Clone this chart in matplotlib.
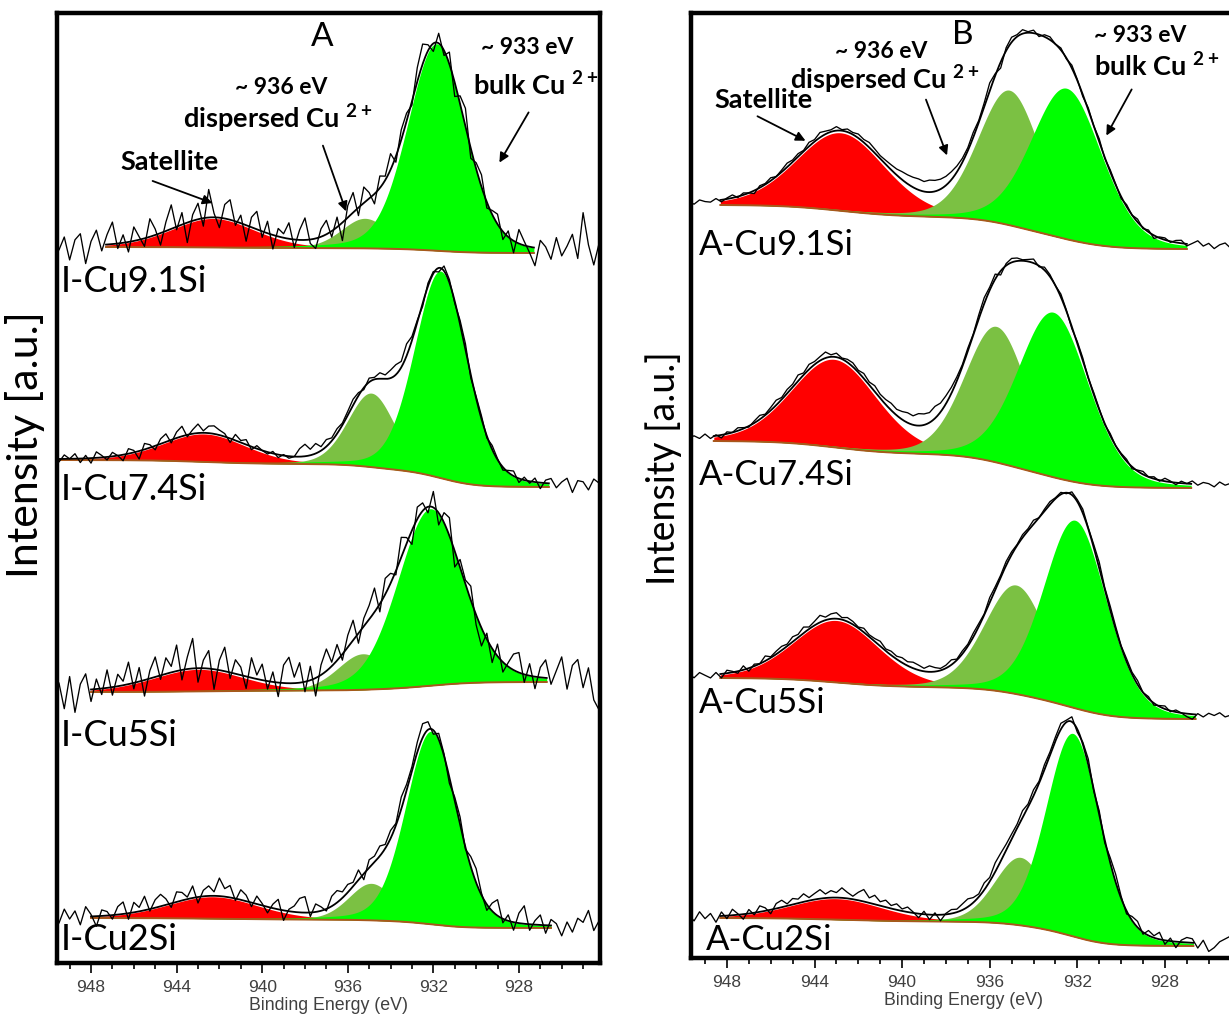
import numpy as np
import matplotlib.pyplot as plt
from matplotlib.ticker import MultipleLocator
from matplotlib.patches import FancyArrowPatch

plt.rcParams['font.family'] = ['Lato', 'DejaVu Sans']
plt.rcParams['mathtext.fontset'] = 'custom'
plt.rcParams['mathtext.rm'] = 'Lato'
plt.rcParams['mathtext.bf'] = 'Lato:bold'

RED = '#ff0000'
OLIVE = '#7bc143'
GREEN = '#00ff00'
BROWN = '#a8581c'

# ---- panel A (I- samples) ----
a_labels = ['I-Cu9.1Si', 'I-Cu7.4Si', 'I-Cu5Si', 'I-Cu2Si']
a_base_hi = [716, 503, 271, 45]     # background at the high-BE end
a_base_lo = [710, 476, 281, 35]     # background at the low-BE end
a_range = [(947.3, 927.3), (949.5, 926.6), (948.0, 926.7), (948.0, 926.5)]
# (centre eV, height, fwhm)
a_sat = [(942.3, 29, 4.6), (942.7, 28, 4.6), (943.0, 22, 5.0), (942.3, 22, 5.0)]
a_disp = [(935.2, 30, 2.6), (934.9, 74, 2.6), (935.3, 36, 2.8), (934.9, 37, 2.5)]
a_bulk = [(931.85, 207, 3.2), (931.65, 207, 2.9), (932.15, 177, 3.6), (932.1, 193, 2.8)]
# raw counts minus fit, every 0.25 eV from 949.75 eV
a_resid = [
    [2, -4, 9, -14, 6, 12, -18, 4, 15, -6, 10, 22, -5, 8, -10, 14, 3, -8, 18, 6,
     -12, 9, 24, -3, 12, -20, 6, 16, -8, 28, 4, -10, 14, 20, -4, 8, -16, 10, 18, -6,
     12, -14, 8, 4, 16, -8, 10, 22, -4, -10, 8, 14, -6, 10, -18, 12, 20, -8, 16, 6,
     -10, 12, 4, 16, -6, 10, 8, -4, 14, 20, 6, -8, 10, -5, 12, -14, 8, 18, -10, 6,
     12, -6, 4, 10, -8, 6, -12, 14, 4, -6, -18, 8, 2, -10, 12, -6, 4, 16, -8, 38,
     6, -14, 8],
    [2, -3, 4, 0, 5, -4, 3, -5, 6, 2, -3, 4, 0, -6, 5, 2, -8, 6, 3, -4,
     5, 8, -3, 6, 10, -2, 4, 9, 2, 7, 8, 5, 3, -4, 6, 2, 5, -3, 3, 0,
     -2, 2, -3, 1, -2, 0, 8, 12, 6, 10, 4, 7, 3, 5, 2, 4, 6, 3, -2, 4,
     2, 6, 4, 8, 10, 6, 12, 4, 2, -3, 3, 2, -4, 5, 3, -2, 4, 6, -3, 2,
     3, -2, 4, 1, -3, 2, 5, -4, 3, -2, 4, -6, 3, 5, -4, 2, 6, -8, 4, 3,
     -5, 6, 2],
    [-10, 8, -18, 14, -22, 6, 16, -12, 10, -6, 18, -8, 12, 4, 22, -6, 14, -16, 8, 20,
     -4, 16, 6, 26, -10, 12, 30, -14, 8, 18, -20, 10, 24, -6, 14, 8, -12, 20, 4, 16,
     -8, 10, -14, 18, 26, 6, 20, -10, 14, -18, 10, 22, 4, 16, -6, 12, 20, -10, 8, 14,
     24, -8, 16, 10, -4, 20, 6, -14, 12, 8, -6, 16, -12, 10, 18, -16, 8, 4, 14, -10,
     -18, 6, -14, 12, -10, 4, 16, 20, -8, 12, -12, 10, 18, -6, 8, 22, -10, 14, 20, -8,
     12, -20, -30],
    [4, -6, 8, -2, 6, -8, 10, 2, -10, 6, 4, -4, 8, 12, -6, 10, 4, 14, -2, 8,
     12, 6, -4, 10, 8, 2, 12, -6, 6, 10, 4, 18, 8, 12, -2, 10, 6, -4, 8, 2,
     -6, 4, 10, -10, 2, 6, 14, 16, -4, 8, 4, -2, 10, 12, 6, 8, 4, 10, -6, 8,
     6, 10, 4, 8, 2, 12, 6, 4, 10, 14, 8, -4, 6, 2, -6, 4, 8, -2, 10, 14,
     2, -6, 8, 16, -4, 6, -8, 10, 18, -6, 4, 10, -8, 6, 2, -10, 4, -6, 8, 4,
     16, -4, 6],
]

# ---- panel B (A- samples) ----
b_labels = ['A-Cu9.1Si', 'A-Cu7.4Si', 'A-Cu5Si', 'A-Cu2Si']
b_base_hi = [753, 517, 280, 40]
b_base_lo = [709, 470, 239, 12]
b_range = [(948.3, 927.0), (948.6, 926.8), (948.3, 926.6), (948.3, 926.7)]
b_sat = [(942.8, 78, 4.8), (943.1, 88, 4.6), (943.0, 62, 4.6), (943.0, 21, 5.0)]
b_disp = [(935.1, 135, 3.4), (935.7, 136, 3.4), (934.8, 109, 3.4), (934.6, 68, 2.8)]
b_bulk = [(932.5, 151, 3.8), (933.1, 165, 3.8), (932.1, 188, 3.4), (932.2, 203, 2.9)]
b_resid = [
    [1, -2, 2, 0, -1, 2, -2, 1, 3, -1, 2, 0, -3, 2, 1, 3, 0, 2, 4, 2,
     3, 1, 4, 2, 5, 3, 2, 4, 1, 3, 2, 4, 3, 5, 4, 3, 4, 5, 6, 8,
     9, 10, 11, 10, 12, 11, 10, 9, 8, 6, 4, 3, 5, 2, 4, 8, 2, -6, 3, 5,
     2, 4, 1, 3, -2, 2, 3, 0, 2, -1, 3, 1, -2, 2, 0, 3, -1, 2, 1, -2,
     2, 0, 3, -1, 2, -3, 1, 2, -1, 2, 3, -2, 1, 4, -1, 2, -3, 1, 3, -2,
     2, 0, 1],
    [0, 2, -1, 3, -2, 1, -3, 2, 0, 3, 1, -1, 2, 4, 1, 3, 5, 2, 4, 3,
     6, 2, 5, 3, 4, 6, 2, 4, 1, 3, 4, 2, 5, 3, 6, 4, 5, 7, 6, 8,
     10, 9, 12, 11, 10, 12, 9, 8, 6, 4, 2, 3, 1, 4, 6, 3, 5, -4, 2, 4,
     3, 1, 2, 4, -1, 3, 2, 0, 3, 1, -2, 2, 3, 0, 2, 1, -1, 2, 0, 1,
     2, -2, 1, 3, 0, 2, -1, 3, 1, -2, 2, 0, 3, -1, 2, 1, -2, 3, 0, 2,
     -1, 2, 0],
    [2, -2, 3, 0, -3, 2, -4, 3, 1, -2, 4, -3, 2, 0, 5, 1, 3, 4, 2, 5,
     3, 6, 2, 4, 7, 3, 5, 6, 2, 4, 3, 1, 4, 2, 3, 5, 2, 4, 3, 5,
     4, 6, 5, 3, 6, 4, 2, 3, 5, 1, 3, 2, 4, 3, 1, 5, 3, 2, 4, 3,
     1, 3, 2, 4, 0, 2, 3, 1, 2, -1, 3, 2, 4, 1, 3, 6, 2, 4, 3, 1,
     3, 2, 4, 0, 2, -2, 1, 3, -1, 2, 0, -3, -5, 1, -2, 2, 0, 3, -1, 1,
     -2, 2, 1],
    [2, -4, 5, -2, 3, -6, 4, -3, 6, 1, -5, 4, -2, 6, 3, -4, 5, 7, 2, 6,
     4, 8, 3, 6, 9, 4, 7, 5, 10, 6, 3, 8, 12, 5, 9, 4, 7, 3, 6, 2,
     5, 1, -4, 3, -5, 2, -6, 1, 4, 3, 6, 8, 5, 3, 7, 4, 9, 8, 6, 5,
     4, 7, 3, 6, 2, 5, 3, 4, 6, 2, 5, -3, 2, 6, -2, 4, -3, 5, 8, 2,
     -3, 4, 6, -2, 5, 2, 7, -4, 3, -6, 2, 5, 4, -5, 3, -8, -4, 2, 5, 8,
     -2, 4, 6],
]


def peak(e, c, h, w, m=0.2):
    x = (e - c) / w
    return h * ((1 - m) * np.exp(-4 * np.log(2) * x ** 2) + m / (1 + 4 * x ** 2))


def draw_spectrum(ax, rng, hi, lo, sat, disp, bulk, resid):
    ef = np.linspace(rng[0], rng[1], 800)
    comps = [peak(ef, *sat), peak(ef, *disp), peak(ef, *bulk)]
    tot = sum(comps)
    frac = np.cumsum(tot[::-1])[::-1]
    bg = lo + (hi - lo) * frac / frac[0]     # Shirley-type background
    for comp, col in zip(comps, [RED, OLIVE, GREEN]):
        ax.fill_between(ef, bg, bg + comp, color=col, lw=0)
    ax.plot(ef, bg, color=BROWN, lw=1.4)
    ax.plot(ef, bg + tot, color='k', lw=1.3)
    er = 949.75 - 0.25 * np.arange(len(resid))
    bgr = np.interp(er, ef[::-1], bg[::-1])
    raw = bgr + sum(peak(er, *p) for p in (sat, disp, bulk)) + np.array(resid)
    ax.plot(er, raw, color='k', lw=0.95)


W, H = 1229, 1017
fig = plt.figure(figsize=(W / 100, H / 100), dpi=100)


def fp(px, py):
    return px / W, 1 - py / H


def setup(ax, xlim, ylim):
    ax.set_xlim(*xlim)
    ax.set_ylim(*ylim)
    ax.set_yticks([])
    ax.xaxis.set_major_locator(MultipleLocator(4))
    ax.xaxis.set_minor_locator(MultipleLocator(1))
    ax.tick_params(axis='x', which='major', direction='out', length=7, width=1.2,
                   pad=5, labelsize=12.5, labelcolor='#404040')
    ax.tick_params(axis='x', which='minor', direction='out', length=4, width=1.2)
    for s in ax.spines.values():
        s.set_linewidth(3.2)
    ax.set_xlabel('Binding Energy (eV)', family='Liberation Sans', fontsize=12.8,
                  color='#404040', labelpad=2)


axA = fig.add_axes([57 / W, 1 - 963 / H, 543 / W, 950 / H])
setup(axA, (949.59, 924.21), (0, 950))
for i in range(4):
    draw_spectrum(axA, a_range[i], a_base_hi[i], a_base_lo[i], a_sat[i], a_disp[i],
                  a_bulk[i], a_resid[i])

axB = fig.add_axes([691 / W, 1 - 958 / H, 544 / W, 945 / H])
setup(axB, (949.64, 924.8), (0, 945))
for i in range(4):
    draw_spectrum(axB, b_range[i], b_base_hi[i], b_base_lo[i], b_sat[i], b_disp[i],
                  b_bulk[i], b_resid[i])
for lab in axA.get_xticklabels() + axB.get_xticklabels():
    lab.set_family('Liberation Sans')

# sample labels
a_lab_pos = [(61, 282), (61, 490), (61, 735), (61, 940)]
b_lab_pos = [(699, 245), (699, 475), (699, 703), (706, 940)]
for lab, (px, py) in zip(a_labels, a_lab_pos):
    fig.text(*fp(px, py), lab, fontsize=26, ha='left', va='center')
for lab, (px, py) in zip(b_labels, b_lab_pos):
    fig.text(*fp(px, py), lab, fontsize=25, ha='left', va='center')

# y labels and panel letters
fig.text(*fp(25, 445), 'Intensity [a.u.]', rotation=90, fontsize=31,
         ha='center', va='center')
fig.text(*fp(664, 468), 'Intensity [a.u.]', rotation=90, fontsize=27,
         ha='center', va='center')
fig.text(*fp(322, 37), 'A', fontsize=24, ha='center', va='center')
fig.text(*fp(963, 35), 'B', fontsize=24, ha='center', va='center')

# annotations
notes = [
    # text, text pos (px), arrow tail (px), arrow head (px)
    ('Satellite', (170, 162), (150, 180), (215, 204)),
    ('~ 936 eV', (281, 88), None, None),
    ('dispersed Cu $^{\\mathbf{2+}}$', (278, 118), (322, 143), (347, 214)),
    ('~ 933 eV', (527, 48), None, None),
    ('bulk Cu $^{\\mathbf{2+}}$', (536, 85), (530, 110), (498, 165)),
    ('Satellite', (764, 100), (755, 115), (808, 142)),
    ('~ 936 eV', (881, 52), None, None),
    ('dispersed Cu $^{\\mathbf{2+}}$', (885, 79), (925, 97), (948, 158)),
    ('~ 933 eV', (1140, 36), None, None),
    ('bulk Cu $^{\\mathbf{2+}}$', (1157, 66), (1133, 87), (1105, 138)),
]
for txt, tp, tail, head in notes:
    size = 16.5 if txt.startswith('~') else 19.5
    fig.text(*fp(*tp), txt, fontsize=size, fontweight='bold', ha='center', va='center')
    if tail is not None:
        fig.add_artist(FancyArrowPatch(
            fp(*tail), fp(*head), transform=fig.transFigure, arrowstyle='-|>',
            mutation_scale=14, color='k', lw=1.3))

fig.savefig('out.png', dpi=100)
